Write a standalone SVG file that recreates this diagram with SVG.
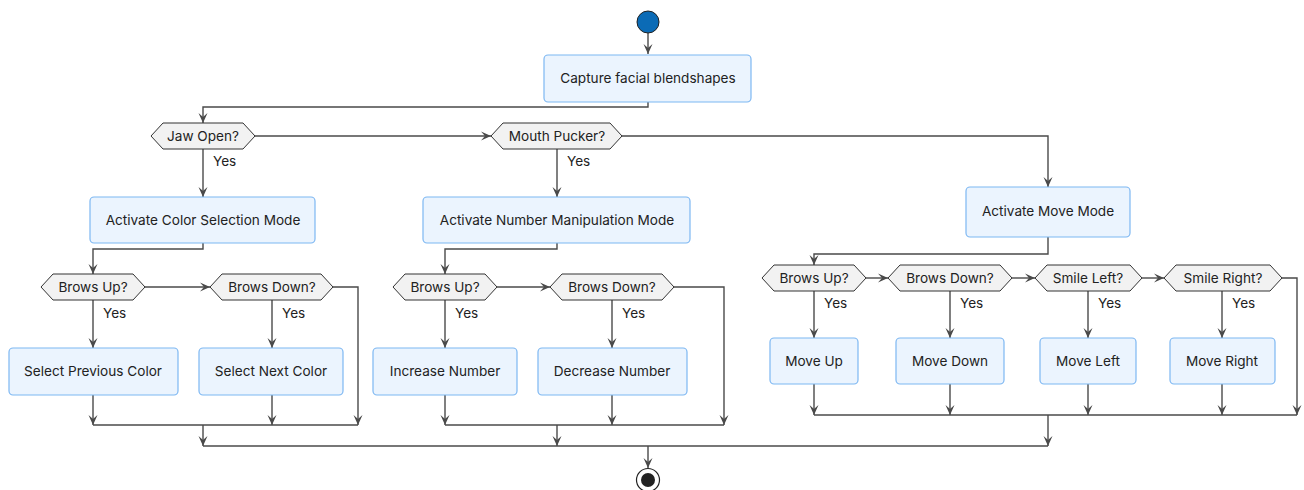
<svg xmlns="http://www.w3.org/2000/svg" width="1304" height="490" viewBox="0 0 1304 490">
<style>
.box{fill:#EBF4FE;stroke:#7DB7F2;stroke-width:1.2}
.hex{fill:#F2F2F2;stroke:#333;stroke-width:1}
.t{font-family:Inter,"Noto Sans","Liberation Sans",sans-serif;font-size:13.6px;fill:#222;text-anchor:middle;dominant-baseline:central}
.y{font-family:Inter,"Noto Sans","Liberation Sans",sans-serif;font-size:13.6px;fill:#222;dominant-baseline:central}
.c{fill:none;stroke:#4A4A4A;stroke-width:1.4}
.a{marker-end:url(#ah)}
</style>
<defs>
<marker id="ah" markerUnits="userSpaceOnUse" markerWidth="12" markerHeight="12" viewBox="-11 -6 12 12" refX="0" refY="0" orient="auto">
<path d="M0,0 L-10,-4.5 L-6,0 L-10,4.5 Z" fill="#4A4A4A"/>
</marker>
</defs>
<rect width="1304" height="490" fill="#fff"/>
<g id="connectors">
<path class="c a" d="M648,33 V54"/>
<path class="c a" d="M648,102 V107 H203 V123"/>
<path class="c a" d="M255,136 H491"/>
<path class="c a" d="M203,149 V197"/>
<path class="c a" d="M557,149 V197"/>
<path class="c a" d="M622,136 H1048 V187"/>
<path class="c a" d="M203,243 V249 H93 V274"/>
<path class="c a" d="M145,287 H210"/>
<path class="c a" d="M93,300 V348"/>
<path class="c a" d="M272,300 V348"/>
<path class="c a" d="M333,287 H358 V425"/>
<path class="c a" d="M93,395 V425"/>
<path class="c a" d="M272,395 V425"/>
<path class="c" d="M93,425 H358"/>
<path class="c a" d="M203,425 V446"/>
<path class="c a" d="M557,243 V249 H445 V274"/>
<path class="c a" d="M497,287 H550"/>
<path class="c a" d="M445,300 V348"/>
<path class="c a" d="M612,300 V348"/>
<path class="c a" d="M674,287 H724 V425"/>
<path class="c a" d="M445,395 V425"/>
<path class="c a" d="M612,395 V425"/>
<path class="c" d="M445,425 H724"/>
<path class="c a" d="M557,425 V446"/>
<path class="c a" d="M1048,237 V254 H814 V265"/>
<path class="c a" d="M866,278 H888"/>
<path class="c a" d="M1012,278 H1035"/>
<path class="c a" d="M1142,278 H1164"/>
<path class="c a" d="M814,291 V338"/>
<path class="c a" d="M950,291 V338"/>
<path class="c a" d="M1088,291 V338"/>
<path class="c a" d="M1222,291 V338"/>
<path class="c a" d="M1282,278 H1297 V415"/>
<path class="c a" d="M814,384 V415"/>
<path class="c a" d="M950,384 V415"/>
<path class="c a" d="M1088,384 V415"/>
<path class="c a" d="M1222,384 V415"/>
<path class="c" d="M814,415 H1297"/>
<path class="c a" d="M1048,415 V446"/>
<path class="c" d="M203,446 H1048"/>
<path class="c a" d="M648,446 V468"/>
<text class="y" x="213" y="161">Yes</text>
<text class="y" x="567" y="161">Yes</text>
<text class="y" x="103" y="313">Yes</text>
<text class="y" x="282" y="313">Yes</text>
<text class="y" x="455" y="313">Yes</text>
<text class="y" x="622" y="313">Yes</text>
<text class="y" x="824" y="303">Yes</text>
<text class="y" x="960" y="303">Yes</text>
<text class="y" x="1098" y="303">Yes</text>
<text class="y" x="1232" y="303">Yes</text>
</g>
<g id="start"><circle cx="648" cy="22" r="11" fill="#0B6BB6" stroke="#222" stroke-width="1"/></g>
<g id="capture"><rect class="box" x="544" y="55" width="207" height="47" rx="4"/><text class="t" x="648" y="78">Capture facial blendshapes</text></g>
<g id="jaw"><polygon class="hex" points="151,136 163,123 243,123 255,136 243,149 163,149"/><text class="t" x="203" y="136">Jaw Open?</text></g>
<g id="pucker"><polygon class="hex" points="491,136 503,123 610,123 622,136 610,149 503,149"/><text class="t" x="557" y="136">Mouth Pucker?</text></g>
<g id="colorMode"><rect class="box" x="90" y="197" width="225" height="46" rx="4"/><text class="t" x="203" y="220">Activate Color Selection Mode</text></g>
<g id="numberMode"><rect class="box" x="423" y="197" width="267" height="46" rx="4"/><text class="t" x="557" y="220">Activate Number Manipulation Mode</text></g>
<g id="moveMode"><rect class="box" x="966" y="187" width="164" height="50" rx="4"/><text class="t" x="1048" y="211">Activate Move Mode</text></g>
<g id="c_browsUp"><polygon class="hex" points="41,287 53,274 133,274 145,287 133,300 53,300"/><text class="t" x="93" y="287">Brows Up?</text></g>
<g id="c_browsDown"><polygon class="hex" points="210,287 222,274 321,274 333,287 321,300 222,300"/><text class="t" x="272" y="287">Brows Down?</text></g>
<g id="prevColor"><rect class="box" x="9" y="348" width="169" height="47" rx="4"/><text class="t" x="93" y="371">Select Previous Color</text></g>
<g id="nextColor"><rect class="box" x="199" y="348" width="144" height="47" rx="4"/><text class="t" x="271" y="371">Select Next Color</text></g>
<g id="n_browsUp"><polygon class="hex" points="393,287 405,274 485,274 497,287 485,300 405,300"/><text class="t" x="445" y="287">Brows Up?</text></g>
<g id="n_browsDown"><polygon class="hex" points="550,287 562,274 662,274 674,287 662,300 562,300"/><text class="t" x="612" y="287">Brows Down?</text></g>
<g id="incNumber"><rect class="box" x="373" y="348" width="144" height="47" rx="4"/><text class="t" x="445" y="371">Increase Number</text></g>
<g id="decNumber"><rect class="box" x="538" y="348" width="149" height="47" rx="4"/><text class="t" x="612" y="371">Decrease Number</text></g>
<g id="m_browsUp"><polygon class="hex" points="762,278 774,265 854,265 866,278 854,291 774,291"/><text class="t" x="814" y="278">Brows Up?</text></g>
<g id="m_browsDown"><polygon class="hex" points="888,278 900,265 1000,265 1012,278 1000,291 900,291"/><text class="t" x="950" y="278">Brows Down?</text></g>
<g id="smileLeft"><polygon class="hex" points="1035,278 1047,265 1130,265 1142,278 1130,291 1047,291"/><text class="t" x="1088" y="278">Smile Left?</text></g>
<g id="smileRight"><polygon class="hex" points="1164,278 1176,265 1270,265 1282,278 1270,291 1176,291"/><text class="t" x="1223" y="278">Smile Right?</text></g>
<g id="moveUp"><rect class="box" x="770" y="338" width="88" height="46" rx="4"/><text class="t" x="814" y="361">Move Up</text></g>
<g id="moveDown"><rect class="box" x="896" y="338" width="108" height="46" rx="4"/><text class="t" x="950" y="361">Move Down</text></g>
<g id="moveLeft"><rect class="box" x="1040" y="338" width="96" height="46" rx="4"/><text class="t" x="1088" y="361">Move Left</text></g>
<g id="moveRight"><rect class="box" x="1170" y="338" width="105" height="46" rx="4"/><text class="t" x="1222" y="361">Move Right</text></g>
<g id="end"><circle cx="648" cy="480" r="11.5" fill="#fff" stroke="#222" stroke-width="1.2"/><circle cx="648" cy="480" r="7" fill="#222"/></g>
</svg>
